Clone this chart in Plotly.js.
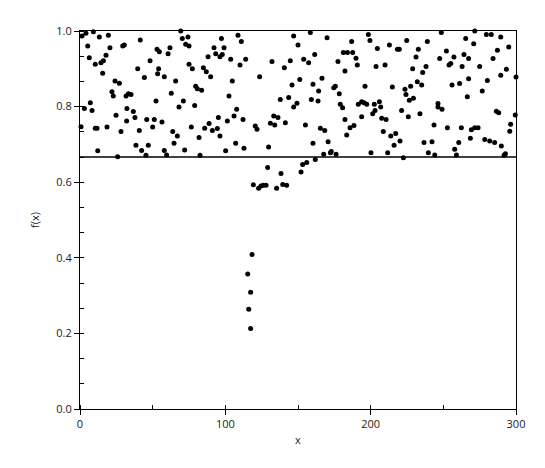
<!DOCTYPE html>
<html>
<head>
<meta charset="utf-8">
<script src="https://cdn.plot.ly/plotly-3.0.1.min.js"></script>
<style>
  html, body { margin: 0; padding: 0; background: #fff; }
  #chart { width: 545px; height: 468px; }
</style>
</head>
<body>
<div id="chart"></div>
<script>
// points, left to right in strips
const strip1X = [1.4, 4.1, 9.2, 13.3, 19.5, 41.5, 5.3, 20.6, 29.4, 30.5, 53.0, 54.6, 6.4, 17.9, 10.5, 14.4, 16.1, 48.2, 39.7, 54.1, 15.6, 53.4, 58.0, 44.3, 24.1, 27.1, 22.0, 22.9, 31.7, 33.3, 35.1, 52.3, 7.1, 3.0, 8.3, 32.3, 36.7, 24.8, 37.8, 32.1, 45.9, 51.1, 0.7, 10.5, 11.7, 18.6, 28.2, 40.8, 50.0, 56.4, 38.5, 47.0, 42.4, 12.2, 45.4, 58.0, 25.9];
const strip1Y = [0.987, 0.994, 0.998, 0.984, 0.989, 0.976, 0.960, 0.956, 0.960, 0.963, 0.952, 0.945, 0.929, 0.936, 0.912, 0.916, 0.921, 0.921, 0.900, 0.900, 0.888, 0.887, 0.879, 0.877, 0.868, 0.862, 0.839, 0.828, 0.828, 0.834, 0.832, 0.815, 0.810, 0.795, 0.790, 0.795, 0.787, 0.777, 0.771, 0.762, 0.766, 0.766, 0.747, 0.743, 0.743, 0.746, 0.734, 0.737, 0.746, 0.759, 0.698, 0.698, 0.684, 0.683, 0.671, 0.684, 0.667];

const strip2X = [69.3, 70.4, 74.3, 97.3, 108.7, 111.0, 61.9, 60.6, 72.7, 75.0, 92.2, 99.1, 93.4, 96.3, 97.9, 88.1, 103.7, 114.0, 110.1, 75.0, 77.3, 84.9, 86.9, 89.9, 65.8, 104.8, 79.6, 80.7, 83.7, 62.8, 102.5, 71.1, 68.1, 78.9, 107.8, 106.0, 101.4, 112.2, 95.2, 88.8, 85.8, 91.1, 94.5, 76.6, 63.8, 67.0, 81.9, 96.3, 64.7, 107.1, 112.8, 72.0, 100.2, 59.6, 82.6];
const strip2Y = [1.0, 0.980, 0.984, 0.980, 0.989, 0.972, 0.956, 0.940, 0.965, 0.960, 0.956, 0.956, 0.940, 0.932, 0.938, 0.932, 0.925, 0.925, 0.910, 0.912, 0.900, 0.903, 0.892, 0.879, 0.868, 0.868, 0.854, 0.847, 0.843, 0.835, 0.828, 0.815, 0.799, 0.803, 0.793, 0.775, 0.762, 0.766, 0.771, 0.755, 0.743, 0.737, 0.742, 0.746, 0.734, 0.722, 0.718, 0.722, 0.703, 0.703, 0.690, 0.685, 0.683, 0.672, 0.671];

const strip3X = [147.0, 158.5, 170.0, 150.0, 161.5, 132.1, 140.6, 144.7, 153.9, 157.3, 177.5, 123.6, 145.9, 151.2, 160.3, 166.5, 164.2, 174.6, 175.7, 178.4, 137.8, 143.6, 149.3, 147.0, 159.2, 163.8, 179.1, 133.3, 136.2, 131.0, 134.0, 141.3, 120.6, 121.8, 155.1, 165.4, 168.4, 129.8, 160.3, 170.7, 172.9, 172.3, 167.7, 176.2, 161.9];
const strip3Y = [0.987, 0.996, 0.982, 0.963, 0.938, 0.919, 0.903, 0.921, 0.925, 0.916, 0.919, 0.879, 0.857, 0.872, 0.859, 0.875, 0.841, 0.850, 0.854, 0.834, 0.819, 0.824, 0.809, 0.799, 0.819, 0.815, 0.806, 0.775, 0.771, 0.756, 0.751, 0.757, 0.749, 0.740, 0.751, 0.743, 0.737, 0.693, 0.703, 0.707, 0.681, 0.678, 0.674, 0.674, 0.660];

const strip4X = [198.4, 199.5, 186.9, 204.6, 212.9, 218.4, 219.7, 224.8, 232.8, 239.0, 181.2, 184.0, 187.6, 189.9, 190.8, 182.3, 203.7, 209.9, 231.2, 228.9, 238.1, 235.8, 196.1, 214.9, 223.6, 224.3, 227.5, 232.1, 235.1, 226.6, 229.4, 180.7, 191.5, 193.8, 195.4, 197.3, 202.5, 206.0, 206.9, 203.0, 201.4, 221.3, 233.9, 182.3, 193.8, 207.6, 210.6, 225.9, 185.8, 188.5, 183.5, 208.7, 213.8, 217.2, 220.2, 216.1, 236.7, 200.2, 211.7, 222.5, 239.7];
const strip4Y = [0.991, 0.975, 0.972, 0.954, 0.963, 0.952, 0.952, 0.975, 0.952, 0.972, 0.943, 0.943, 0.943, 0.928, 0.910, 0.894, 0.906, 0.910, 0.931, 0.900, 0.906, 0.890, 0.854, 0.852, 0.846, 0.832, 0.854, 0.866, 0.857, 0.817, 0.822, 0.797, 0.806, 0.813, 0.810, 0.806, 0.806, 0.813, 0.799, 0.790, 0.781, 0.790, 0.781, 0.766, 0.773, 0.769, 0.766, 0.773, 0.744, 0.750, 0.725, 0.734, 0.722, 0.729, 0.709, 0.698, 0.705, 0.678, 0.678, 0.665, 0.678];

const strip5X = [248.6, 271.6, 279.6, 283.0, 289.5, 265.4, 270.9, 295.0, 252.1, 247.5, 257.3, 264.2, 267.4, 255.1, 253.9, 262.9, 275.0, 287.2, 284.2, 293.4, 289.5, 300.0, 267.4, 280.3, 256.0, 261.2, 276.8, 266.5, 246.3, 246.3, 249.1, 286.5, 288.1, 299.5, 243.6, 252.8, 262.4, 271.6, 273.9, 269.3, 296.3, 295.7, 242.2, 260.6, 268.6, 278.5, 281.9, 285.3, 289.9, 257.8, 259.0, 244.1, 292.7, 291.8];
const strip5Y = [0.996, 1.0, 0.991, 0.991, 0.984, 0.980, 0.966, 0.958, 0.947, 0.927, 0.931, 0.938, 0.927, 0.914, 0.910, 0.906, 0.906, 0.949, 0.927, 0.899, 0.883, 0.878, 0.874, 0.869, 0.857, 0.861, 0.841, 0.826, 0.808, 0.799, 0.793, 0.788, 0.784, 0.778, 0.751, 0.744, 0.744, 0.744, 0.744, 0.739, 0.753, 0.735, 0.707, 0.705, 0.716, 0.713, 0.709, 0.705, 0.696, 0.687, 0.672, 0.672, 0.675, 0.671];

// the dip below the line around x = 120..156
const dipX = [129.1, 138.3, 152.1, 153.2, 156.0, 119.3, 122.9, 124.5, 126.1, 128.0, 135.3, 139.5, 142.2, 118.4, 115.4, 117.4, 116.1, 117.4];
const dipY = [0.639, 0.623, 0.627, 0.647, 0.652, 0.593, 0.584, 0.590, 0.592, 0.592, 0.584, 0.594, 0.592, 0.409, 0.357, 0.309, 0.264, 0.213];

const threshold = 2 / 3;
const xTicks = [0, 100, 200, 300];
const yTicks = [0, 0.2, 0.4, 0.6, 0.8, 1.0];

const allX = [].concat(strip1X, strip2X, strip3X, strip4X, strip5X, dipX);
const allY = [].concat(strip1Y, strip2Y, strip3Y, strip4Y, strip5Y, dipY);

const dots = {
  x: allX,
  y: allY,
  type: 'scatter',
  mode: 'markers',
  marker: { color: '#000', size: 5 },
  cliponaxis: false,
  hoverinfo: 'skip'
};

const tickFont = { family: 'Open Sans, DejaVu Sans, sans-serif', size: 11, color: '#222' };

const layout = {
  width: 545,
  height: 468,
  margin: { l: 80, r: 29, t: 31, b: 59 },
  paper_bgcolor: '#fff',
  plot_bgcolor: '#fff',
  showlegend: false,
  font: tickFont,
  xaxis: {
    range: [0, 300],
    tickvals: xTicks,
    ticktext: xTicks.map(String),
    ticks: 'outside',
    ticklen: 5,
    tickcolor: '#000',
    minor: { dtick: 50, tick0: 0, ticks: 'inside', ticklen: 4, tickcolor: '#000', showgrid: false },
    showgrid: false,
    zeroline: false,
    showline: true,
    linecolor: '#000',
    linewidth: 1,
    mirror: true,
    tickfont: tickFont,
    title: { text: 'x', font: { family: 'Open Sans, DejaVu Sans, sans-serif', size: 11, color: '#222' }, standoff: 6 }
  },
  yaxis: {
    range: [0, 1],
    tickvals: yTicks,
    ticktext: yTicks.map(v => v.toFixed(1)),
    ticks: 'outside',
    ticklen: 5,
    tickcolor: '#000',
    minor: { dtick: 0.2 / 3, tick0: 0, ticks: 'inside', ticklen: 4, tickcolor: '#000', showgrid: false },
    showgrid: false,
    zeroline: false,
    showline: true,
    linecolor: '#000',
    linewidth: 1,
    mirror: true,
    tickfont: tickFont,
    title: { text: 'f(x)', font: { family: 'Open Sans, DejaVu Sans, sans-serif', size: 11, color: '#222' }, standoff: 14 }
  },
  shapes: [{
    type: 'line',
    xref: 'paper', x0: 0, x1: 1,
    yref: 'y', y0: threshold, y1: threshold,
    line: { color: '#000', width: 1.5 }
  }]
};

Plotly.newPlot('chart', [dots], layout, { displayModeBar: false, staticPlot: true });
</script>
</body>
</html>
